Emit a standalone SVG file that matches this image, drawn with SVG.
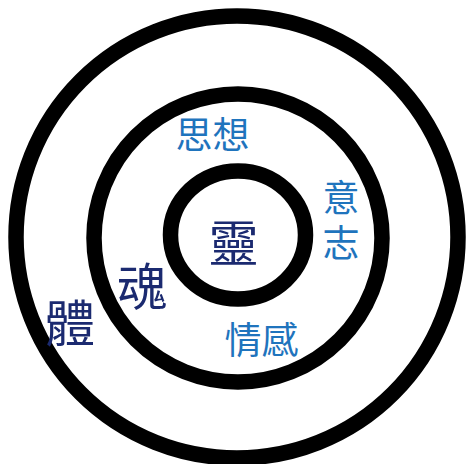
<svg xmlns="http://www.w3.org/2000/svg" width="467" height="464" viewBox="0 0 467 464">
<style>
.ring{fill:none;stroke:#000;stroke-width:15.5}
.blue{font-family:"Noto Sans CJK TC","Noto Sans CJK SC",sans-serif;fill:#1f74bd;font-size:37px;text-anchor:middle}
.navy{font-family:"Noto Sans CJK TC","Noto Sans CJK SC",serif;fill:#1b2a70;font-size:50px;text-anchor:middle}
.vert{writing-mode:vertical-rl;letter-spacing:8px}
</style>
<rect width="467" height="464" fill="#fff"/>
<g id="body">
<circle class="ring" cx="237" cy="237" r="221"/>
<text class="navy" x="70" y="342">體</text>
</g>
<g id="soul">
<circle class="ring" cx="238" cy="238" r="144"/>
<text class="navy" x="142" y="305">魂</text>
<text class="blue" x="212.5" y="149">思想</text>
<text class="blue vert" x="341" y="224">意志</text>
<text class="blue" x="261.5" y="354">情感</text>
</g>
<g id="spirit">
<ellipse class="ring" cx="238" cy="235" rx="67.5" ry="64"/>
<text class="navy" x="233.5" y="262">靈</text>
</g>
</svg>
